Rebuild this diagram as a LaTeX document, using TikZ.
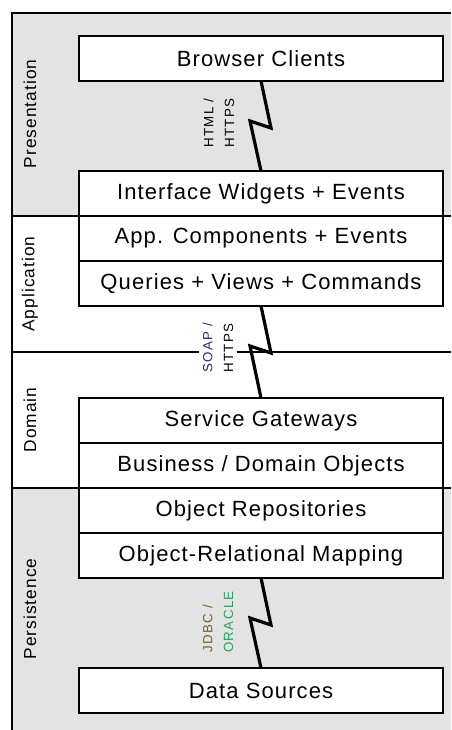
\documentclass[tikz,border=0pt]{standalone}
\usepackage{fontspec}
\setmainfont{Liberation Sans}
\newfontfamily\boxfont{Liberation Sans}[LetterSpace=5]
\newfontfamily\tierfont{Liberation Sans}[LetterSpace=6]
\newfontfamily\tagfont{Liberation Sans}[LetterSpace=10]
\usetikzlibrary{positioning}
\definecolor{panelg}{HTML}{E3E3E3}
\definecolor{soapc}{HTML}{232F6E}
\definecolor{jdbcc}{HTML}{6E6A1C}
\definecolor{oraclec}{HTML}{22A65E}
\tikzset{
  layer/.style={draw,line width=1.1pt,fill=white,outer sep=0pt,inner sep=0pt,
    minimum width=273pt,minimum height=33.75pt,font=\boxfont\fontsize{16.5}{19}\selectfont},
  tier/.style={rotate=90,font=\tierfont\fontsize{13}{15}\selectfont},
  proto/.style={rotate=90,align=left,inner sep=3pt,font=\tagfont\fontsize{10}{15.5}\selectfont},
  bolt/.style={line width=2.4pt,line join=miter,miter limit=10},
  rule/.style={line width=1.1pt}
}
\begin{document}
\begin{tikzpicture}[x=0.75pt,y=0.75pt]
\useasboundingbox (0,0) rectangle (451,-730);
% tiers
\fill[panelg] (12,-13) rectangle (451,-216);
\fill[panelg] (12,-488) rectangle (451,-730);
\draw[rule] (12,-730) -- (12,-13) -- (451,-13);
\draw[rule] (12,-216) -- (451,-216);
\draw[rule] (12,-352) -- (451,-352);
\draw[rule] (12,-488) -- (451,-488);
\node[tier] (presLbl) at (30,-114) {Presentation};
\node[tier] (appLbl) at (30,-284) {Application};
\node[tier] (domLbl) at (30,-420) {Domain};
\node[tier] (persLbl) at (30,-609) {Persistence};
% layers
\node[layer] (browser) at (261,-58.5) {Browser Clients};
\node[layer] (widgets) at (261,-193.5) {Interface Widgets + Events};
\node[layer,below=0pt of widgets] (appcomp) {App. Components + Events};
\node[layer,below=0pt of appcomp] (queries) {Queries + Views + Commands};
\node[layer] (gateways) at (261,-420.5) {Service Gateways};
\node[layer,below=0pt of gateways] (business) {Business / Domain Objects};
\node[layer,below=0pt of business] (repos) {Object Repositories};
\node[layer,below=0pt of repos] (ormap) {Object-Relational Mapping};
\node[layer] (datasrc) at (261,-690.5) {Data Sources};
% links
\draw[bolt] (browser.south) -- ++(10,-47) -- ++(-21,7) -- (widgets.north);
\draw[bolt] (queries.south) -- ++(10,-47) -- ++(-21,7) -- (gateways.north);
\draw[bolt] (ormap.south) -- ++(10,-47) -- ++(-21,7) -- (datasrc.north);
\node[proto] (httpLbl) at (219,-123) {HTML /\\HTTPS};
\node[proto,fill=white] (soapLbl) at (218,-348) {\textcolor{soapc}{SOAP /}\\HTTPS};
\node[proto] (jdbcLbl) at (218,-622) {\textcolor{jdbcc}{JDBC /}\\\textcolor{oraclec}{ORACLE}};
\end{tikzpicture}
\end{document}
